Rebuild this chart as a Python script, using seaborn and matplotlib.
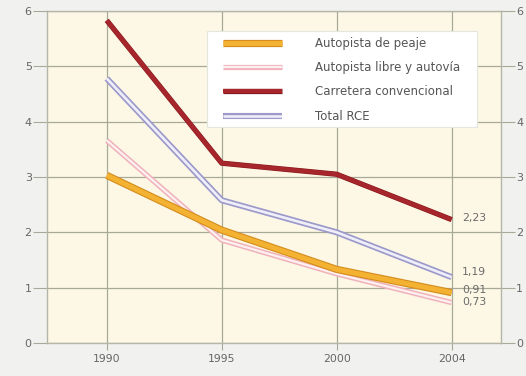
import matplotlib
matplotlib.use("Agg")
import matplotlib.pyplot as plt
import matplotlib.patheffects as pe
from matplotlib.patches import Rectangle
import seaborn as sns
import pandas as pd

years = ["1990", "1995", "2000", "2004"]
peaje = [3.03, 2.04, 1.33, 0.91]
libre = [3.66, 1.86, 1.25, 0.73]
convencional = [5.83, 3.25, 3.05, 2.23]
total = [4.78, 2.58, 2.00, 1.19]
names = ["Autopista de peaje", "Autopista libre y autovía",
         "Carretera convencional", "Total RCE"]
end_labels = ["0,91", "0,73", "2,23", "1,19"]
yticks = [0, 1, 2, 3, 4, 5, 6]

sns.set_style("white")
plt.rcParams['font.family'] = ['DejaVu Sans']

fig = plt.figure(figsize=(5.26, 3.76), dpi=100)
fig.patch.set_facecolor("#F1F1EF")
ax = fig.add_axes([0.0894, 0.0878, 0.8631, 0.8829])
ax.set_facecolor("#FDF8E6")

pos = list(range(len(years)))
series = [peaje, libre, convencional, total]
styles = [
    dict(color="#F4B233", edge="#D48C1C", lw=3.6, ew=5.2, z=4),
    dict(color="#FDF0F0", edge="#F0B2BA", lw=1.6, ew=3.8, z=3),
    dict(color="#A6262C", edge="#86191E", lw=3.0, ew=3.8, z=6),
    dict(color="#F0EFF9", edge="#9C9ACA", lw=1.9, ew=4.4, z=5),
]
for name, vals, st in zip(names, series, styles):
    df = pd.DataFrame({"x": pos, "y": vals})
    sns.lineplot(data=df, x="x", y="y", ax=ax, color=st["color"], lw=st["lw"],
                 label=name, zorder=st["z"])
    line = ax.lines[-1]
    line.set_path_effects([pe.Stroke(linewidth=st["ew"], foreground=st["edge"]),
                           pe.Normal()])
    line.set_solid_capstyle("butt")

# end value labels
label_y = {"0,91": 0.96, "0,73": 0.74, "2,23": 2.25, "1,19": 1.29}
for lab in end_labels:
    ax.text(3.09, label_y[lab], lab, fontsize=7.8, color="#6A6A6A", va="center", ha="left")

ax.set_xlim(-0.52, 3.43)
ax.set_ylim(0, 6)
ax.set_xticks(pos)
ax.set_xticklabels(years)
ax.set_yticks(yticks)
ax.set_yticklabels([str(t) for t in yticks])
ax.set_xlabel("")
ax.set_ylabel("")
ax.grid(True, color="#A9A99A", lw=0.9)
ax.set_axisbelow(True)
for s in ax.spines.values():
    s.set_color("#B5B5A8")
    s.set_linewidth(1.0)
ax.tick_params(axis="y", which="both", left=True, right=True, labelleft=True,
               labelright=True, length=5, color="#A9A99A", labelsize=8,
               labelcolor="#666666", pad=1)
ax.tick_params(axis="y", which="both", right=True, length=10)
ax.tick_params(axis="x", bottom=True, length=5, color="#A9A99A", labelsize=7.8,
               labelcolor="#666666", pad=3)

# legend frame box (207..477 px, 31..127 px)
W, H = 454, 332
ax.add_patch(Rectangle(((207 - 47) / W, (343 - 127) / H), 270 / W, 96 / H,
                       transform=ax.transAxes, facecolor="white",
                       edgecolor="#E6E6E0", lw=0.8, zorder=9))
leg = ax.legend(loc="upper left", bbox_to_anchor=((223 - 47) / W, (343 - 37) / H),
                frameon=False, fontsize=8.5, handlelength=5.0,
                handletextpad=2.8, labelspacing=0.95, borderpad=0, borderaxespad=0)
for t in leg.get_texts():
    t.set_color("#555555")
leg.set_zorder(10)

fig.savefig("out.png", dpi=100, facecolor=fig.get_facecolor())
